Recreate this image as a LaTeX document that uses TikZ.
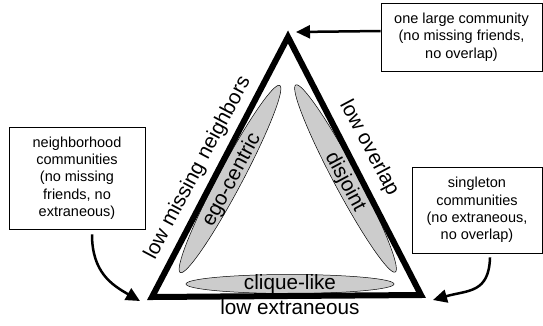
\documentclass[tikz,border=0pt]{standalone}
\usepackage{fontspec}
\setmainfont{Liberation Sans}
\usetikzlibrary{arrows.meta,calc,shapes.geometric}
\begin{document}
\begin{tikzpicture}[x=1pt,y=-1pt,
  tri/.style={line width=6pt,line join=miter},
  infobox/.style={draw,line width=0.8pt,align=center,inner sep=0pt,font=\fontsize{14.5}{17.3}\selectfont},
  bigtext/.style={font=\fontsize{20.7}{24}\selectfont,inner sep=0pt},
  blob/.style={ellipse,draw,line width=0.5pt,fill=black!20,inner sep=0pt},
  arr/.style={line width=2.5pt,-{Triangle[length=14pt,width=13pt]}}]
\useasboundingbox (0,0) rectangle (543,325);
\coordinate (A) at (288,37);
\coordinate (B) at (152,297);
\coordinate (C) at (421,295);
\coordinate (tipA) at (296,32);
\coordinate (tipB) at (140,301);
\coordinate (tipC) at (433,300);
% ellipses
\node[blob,minimum width=212pt,minimum height=24pt,rotate=62] (ego) at (230,179) {};
\node[bigtext,rotate=62] (egot) at (232,180) {ego-centric};
\node[blob,minimum width=212pt,minimum height=24pt,rotate=-62] (dis) at (345.5,178.5) {};
\node[bigtext,rotate=-62] (dist) at (345,182) {disjoint};
\node[blob,minimum width=208pt,minimum height=19pt] (cli) at (290,284) {};
\node[bigtext] (clit) at (290,284) {clique-like};
% triangle
\draw[tri] (A) -- (B) -- (C) -- cycle;
% edge labels
\node[bigtext,rotate=62] (lmn) at (198,168) {low missing neighbors};
\node[bigtext,rotate=-62] (lo) at (369,148) {low overlap};
\node[bigtext,anchor=north] (le) at (290,299.5) {low extraneous};
% boxes
\node[infobox,minimum width=161pt,minimum height=68pt] (topbox) at (461.5,37) {one large community\\(no missing friends,\\no overlap)};
\node[infobox,minimum width=136pt,minimum height=102pt] (leftbox) at (77,178) {neighborhood\\communities\\(no missing\\friends, no\\extraneous)};
\node[infobox,minimum width=130pt,minimum height=86pt] (rightbox) at (477,210) {singleton\\communities\\(no extraneous,\\no overlap)};
% arrows
\draw[arr] ($(topbox.west)+(0,-6)$) -- (tipA);
\draw[arr] ($(leftbox.south)+(15,5)$) .. controls +(0,38) and +(-28,-16) .. (tipB);
\draw[arr] ($(rightbox.south)+(13,4)$) .. controls +(-1,36) and +(35,-10) .. (tipC);
\end{tikzpicture}
\end{document}
